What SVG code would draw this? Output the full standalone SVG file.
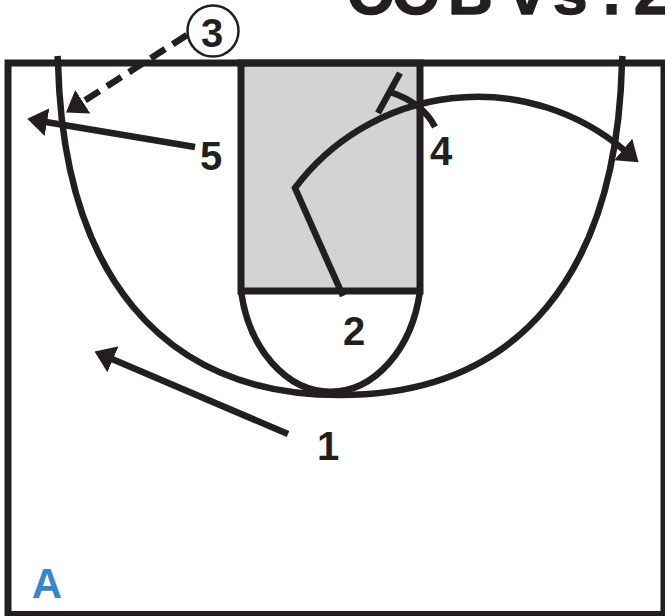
<svg xmlns="http://www.w3.org/2000/svg" width="665" height="616" viewBox="0 0 665 616">
<style>
.line{fill:none;stroke:#231f20;stroke-width:6.5}
.lbl{font-family:"Liberation Sans",Arial,sans-serif;font-weight:bold;font-size:40px;fill:#231f20;text-anchor:middle}
</style>
<defs>
<marker id="ah" markerUnits="userSpaceOnUse" viewBox="0 0 20 28" refX="1" refY="14" markerWidth="20" markerHeight="28" orient="auto">
<path d="M0,0 L20,14 L0,28 Z" fill="#231f20"/>
</marker>
</defs>
<rect width="665" height="616" fill="#ffffff"/>
<text id="title" x="347 392 448 490 510 553 603 620 634" y="14" font-family="'Liberation Sans',Arial,sans-serif" font-weight="bold" font-size="62" fill="#231f20" stroke="#231f20" stroke-width="1.5">OOB vs. 2</text>
<g id="court">
<rect x="241" y="63" width="179" height="228" fill="#d1d3d4" stroke="#231f20" stroke-width="7"/>
<path class="line" d="M241,291 A91,123 0 0 0 420,291"/>
<path class="line" d="M57.5,56 L58,62 C63,272 160,395 340,395 C520,395 617,272 622,62 L622.5,56"/>
<rect x="8" y="63" width="656" height="551.5" fill="none" stroke="#231f20" stroke-width="7"/>
</g>
<g id="connectors">
<path class="line" d="M187,35 L82,102.3" stroke-dasharray="17 9" marker-end="url(#ah)"/>
<path class="line" d="M195,147 L46,122" marker-end="url(#ah)"/>
<path class="line" d="M288,434 L112,359" marker-end="url(#ah)"/>
<path class="line" stroke-linejoin="miter" d="M343,296 L295,188 A228,228 0 0 1 624,150" marker-end="url(#ah)"/>
<path class="line" d="M435,127 Q423,103 390,92"/>
<path class="line" d="M400,73 L378,113"/>
</g>
<g id="player3">
<circle cx="213" cy="31" r="25.5" fill="#ffffff" stroke="#231f20" stroke-width="2.5"/>
<text class="lbl" x="212" y="47">3</text>
</g>
<g id="player5"><text class="lbl" x="211" y="170">5</text></g>
<g id="player4"><text class="lbl" x="441" y="165">4</text></g>
<g id="player2"><text class="lbl" x="354" y="345">2</text></g>
<g id="player1"><text class="lbl" x="328" y="460">1</text></g>
<text id="label-a" x="47" y="598" font-family="'Liberation Sans',Arial,sans-serif" font-weight="bold" font-size="42" fill="#3a87c8" text-anchor="middle">A</text>
</svg>
